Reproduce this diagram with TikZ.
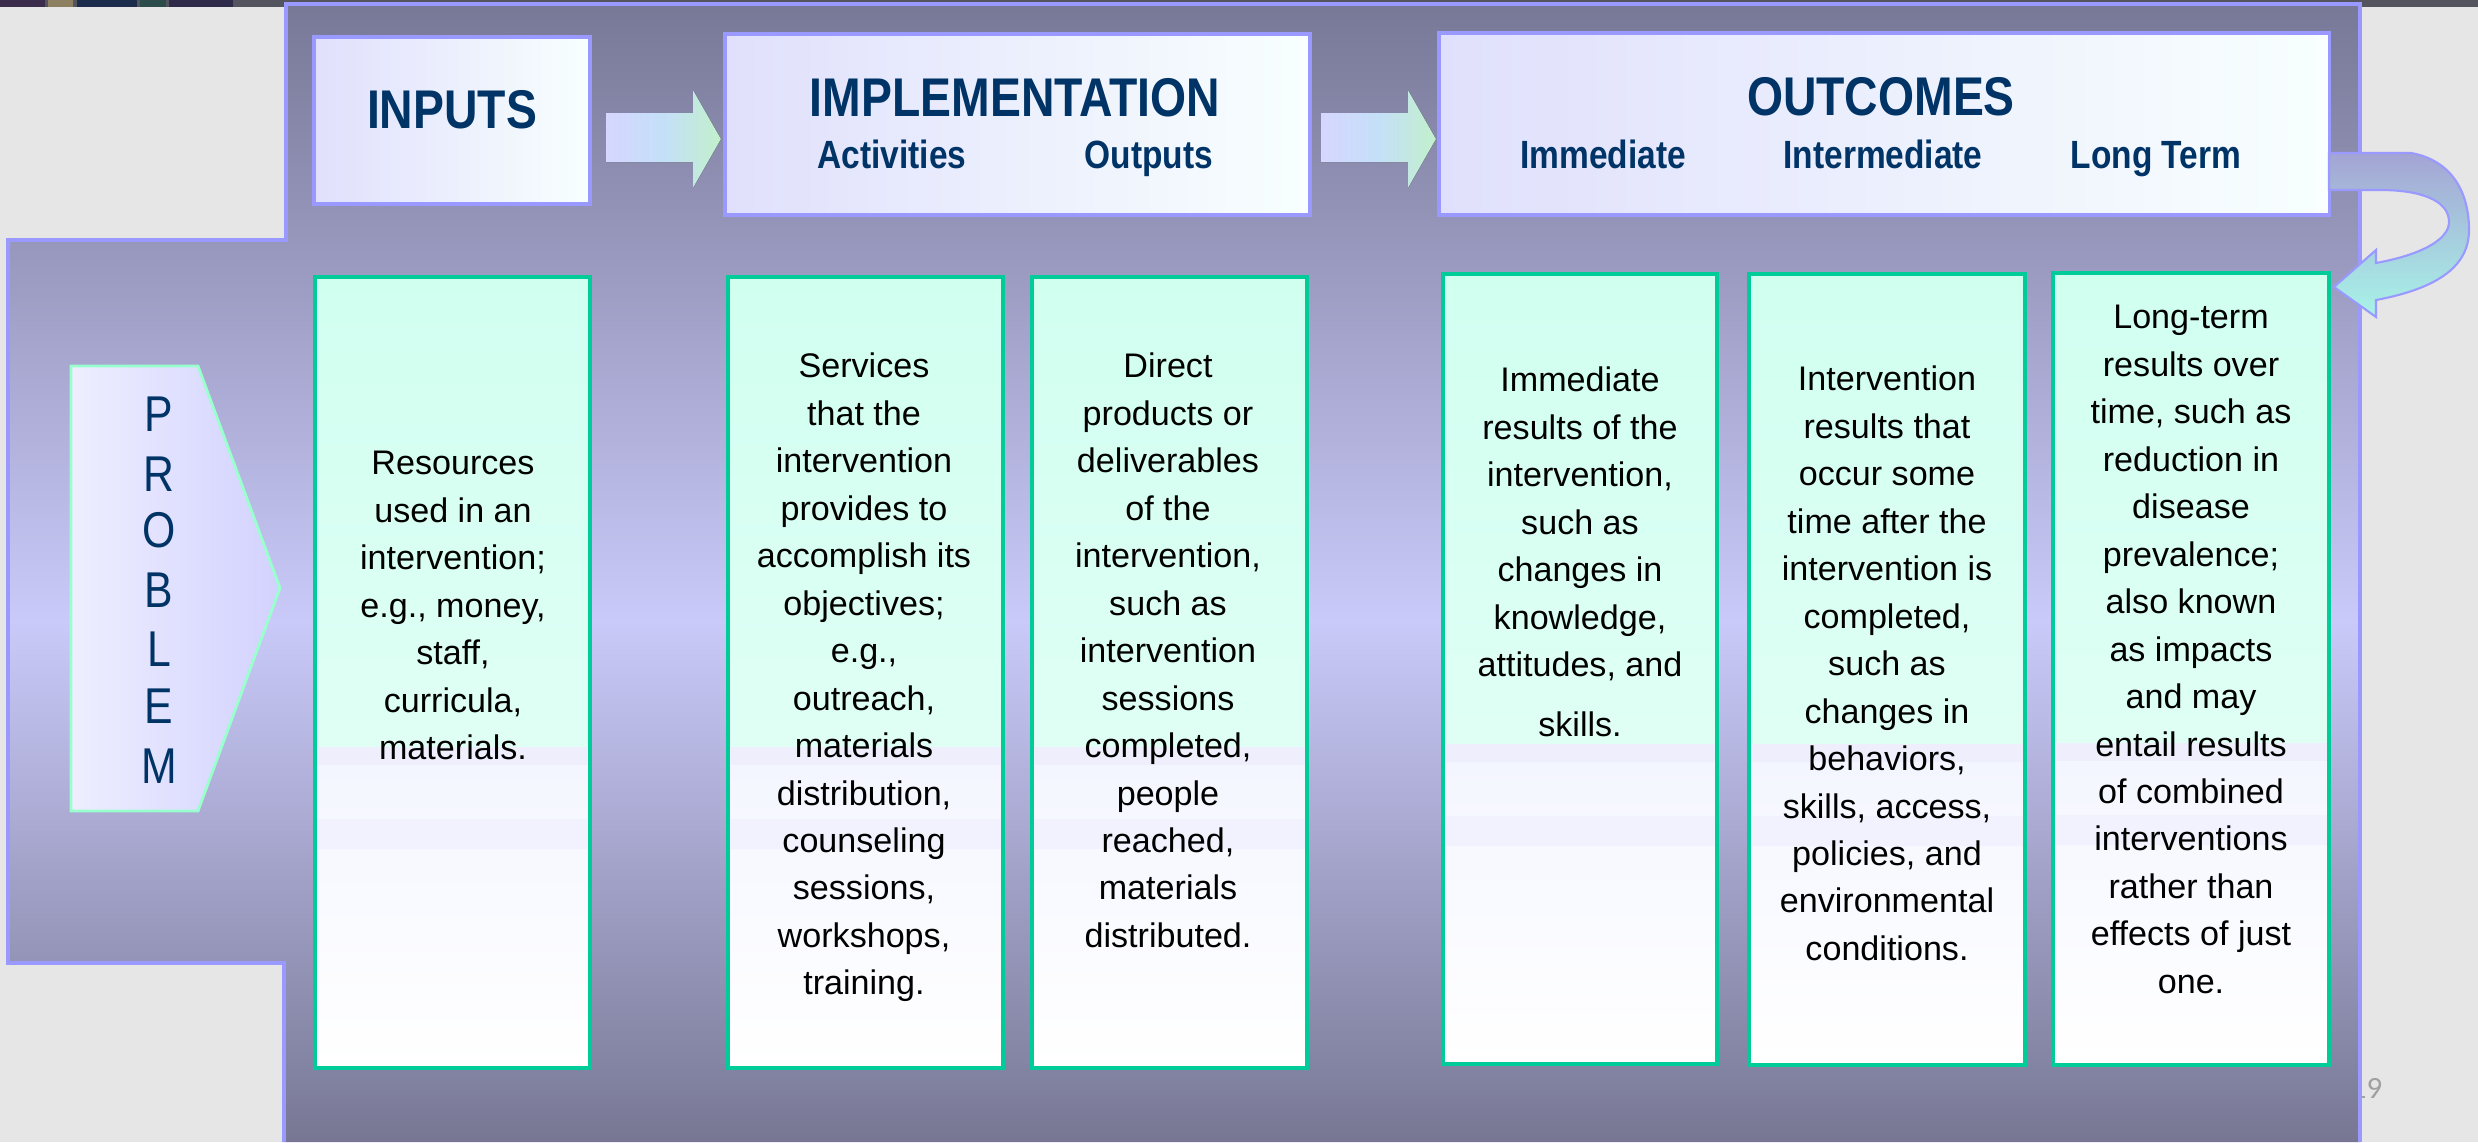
\documentclass[tikz,border=0pt]{standalone}
\usepackage{fontspec}
\setmainfont{Liberation Sans}
\newfontfamily\hdfont[FakeStretch=0.85]{Liberation Sans}
\newfontfamily\pgnumfont{Carlito}
\newcommand\firststrut{\rule{0pt}{10pt}}
\definecolor{bgcol}{HTML}{E6E6E6}
\definecolor{stripcol}{HTML}{54545E}
\definecolor{ptop}{HTML}{777796}
\definecolor{pmid}{HTML}{CACAFA}
\definecolor{pbot}{HTML}{777794}
\definecolor{pborder}{HTML}{9999FF}
\definecolor{hdrL}{HTML}{E0E0FC}
\definecolor{hdrR}{HTML}{F8FFFE}
\definecolor{navy}{HTML}{003366}
\definecolor{lowborder}{HTML}{00CC99}
\definecolor{lowtop}{HTML}{D0FFF0}
\definecolor{lowmid}{HTML}{EAFFF8}
\definecolor{lowband}{HTML}{EEEEFC}
\definecolor{lowlow}{HTML}{F4F6FF}
\definecolor{lowbot}{HTML}{FFFFFF}
\definecolor{arrL}{HTML}{D6D6FF}
\definecolor{arrM}{HTML}{C4E0F8}
\definecolor{arrR}{HTML}{C2F0CC}
\definecolor{probL}{HTML}{EEEEFF}
\definecolor{probR}{HTML}{D2D2FF}
\definecolor{probborder}{HTML}{99FFCC}
\definecolor{curvtop}{HTML}{A4A4D4}
\definecolor{curvbot}{HTML}{A8F4E8}
\definecolor{pgcol}{HTML}{A0A0A0}
\begin{document}
\begin{tikzpicture}[x={(0.01cm,0)}, y={(0,-0.01cm)},
  hdrbox/.style={draw=pborder, line width=1pt, left color=hdrL, right color=hdrR, inner sep=0pt},
  lowbox/.style={draw=lowborder, line width=1.1pt, inner sep=0pt,
    path picture={
      \fill[top color=lowtop, bottom color=lowmid] (path picture bounding box.north west) rectangle ([yshift=-4.70cm]path picture bounding box.north east);
      \fill[lowband] ([yshift=-4.70cm]path picture bounding box.north west) rectangle ([yshift=-4.88cm]path picture bounding box.north east);
      \fill[top color=lowlow, bottom color=lowbot] ([yshift=-4.88cm]path picture bounding box.north west) rectangle (path picture bounding box.south east);
      \fill[lowband, opacity=0.6] ([yshift=-5.42cm]path picture bounding box.north west) rectangle ([yshift=-5.72cm]path picture bounding box.north east);
    }},
  bigtitle/.style={font=\hdfont\bfseries\fontsize{15.5pt}{18pt}\selectfont, text=navy, inner sep=0pt, anchor=base},
  subtitle/.style={font=\hdfont\bfseries\fontsize{11.2pt}{13pt}\selectfont, text=navy, inner sep=0pt, anchor=base},
  bodytext/.style={font=\fontsize{9.7pt}{13.5pt}\selectfont, text=black, align=center, inner sep=0pt, anchor=north},
  problett/.style={font=\hdfont\fontsize{14.3pt}{16pt}\selectfont, text=navy, inner sep=0pt, anchor=base},
  blockarrow/.style={left color=arrL, right color=arrR, middle color=arrM}
]
\useasboundingbox (0,0) rectangle (2478,1142);
% background
\fill[bgcol] (0,0) rectangle (2478,1142);
\fill[stripcol] (0,0) rectangle (2478,7);
\fill[fill={rgb,255:red,60;green,44;blue,76}] (0,0) rectangle (45,7);
\fill[fill={rgb,255:red,140;green,128;blue,96}] (48,0) rectangle (73,7);
\fill[fill={rgb,255:red,28;green,44;blue,76}] (77,0) rectangle (137,7);
\fill[fill={rgb,255:red,44;green,76;blue,76}] (140,0) rectangle (166,7);
\fill[fill={rgb,255:red,48;green,42;blue,74}] (169,0) rectangle (233,7);
% page number
\node[font=\pgnumfont\fontsize{8.8pt}{10pt}\selectfont, text=pgcol, inner sep=0pt, anchor=base east] (pagenum) at (2383,1098) {19};
% panel
\begin{scope}
  \clip (286,4) -- (2360,4) -- (2360,1142) -- (284,1142) -- (284,963) -- (8,963) -- (8,240) -- (286,240) -- cycle;
  \fill[top color=ptop, bottom color=pmid] (0,0) rectangle (2478,622);
  \fill[top color=pmid, bottom color=pbot] (0,620) rectangle (2478,1142);
\end{scope}
\draw[pborder, line width=0.9pt] (284,1142) -- (284,963) -- (8,963) -- (8,240) -- (286,240) -- (286,4) -- (2360,4) -- (2360,1142);

% header boxes
\node[hdrbox, minimum width=2.76cm, minimum height=1.67cm] (inputs) at (452,120.5) {};
\node[hdrbox, minimum width=5.85cm, minimum height=1.81cm] (impl) at (1017.5,124.5) {};
\node[hdrbox, minimum width=8.90cm, minimum height=1.82cm] (outc) at (1884,124) {};

\node[bigtitle] (tinputs) at (452,128) {INPUTS};
\node[bigtitle] (timpl) at (1015,116) {IMPLEMENTATION};
\node[subtitle] (tact) at (892,168) {Activities};
\node[subtitle] (tout) at (1149,168) {Outputs};
\node[bigtitle] (toutc) at (1881,115) {OUTCOMES};
\node[subtitle] (timm) at (1603,168) {Immediate};
\node[subtitle] (tint) at (1883,168) {Intermediate};
\node[subtitle] (tlong) at (2156,168) {Long Term};

% block arrows
\fill[blockarrow] (606,113) -- (693,113) -- (693,90) -- (721,139) -- (693,188) -- (693,162) -- (606,162) -- cycle;
\fill[blockarrow] (1321,113) -- (1408,113) -- (1408,90) -- (1436,139) -- (1408,188) -- (1408,162) -- (1321,162) -- cycle;

% curved feedback arrow
\draw[pborder, line width=0.6pt, top color=curvtop, bottom color=curvbot]
  (2329,153) -- (2411,153) .. controls (2450,160) and (2469,190) .. (2469,230)
  .. controls (2469,265) and (2440,288) .. (2376,300) -- (2376,317) -- (2334,287) -- (2376,250) -- (2376,263)
  .. controls (2420,255) and (2449,240) .. (2449,222) .. controls (2449,200) and (2420,190) .. (2380,190)
  -- (2329,190) -- cycle;

% problem pentagon
\draw[probborder, line width=0.8pt, left color=probL, right color=probR]
  (71,366) -- (198,366) -- (280,588) -- (198,811) -- (71,811) -- cycle;
\node[problett] (p1) at (159,431) {P};
\node[problett] (p2) at (159,491) {R};
\node[problett] (p3) at (159,547) {O};
\node[problett] (p4) at (159,607) {B};
\node[problett] (p5) at (159,666) {L};
\node[problett] (p6) at (159,723) {E};
\node[problett] (p7) at (159,783) {M};

% lower boxes
\node[lowbox, minimum width=2.75cm, minimum height=7.91cm] (binp) at (452.5,672.5) {};
\node[lowbox, minimum width=2.75cm, minimum height=7.91cm] (bact) at (865.5,672.5) {};
\node[lowbox, minimum width=2.75cm, minimum height=7.91cm] (bout) at (1169.5,672.5) {};
\node[lowbox, minimum width=2.74cm, minimum height=7.90cm] (bimm) at (1580,669) {};
\node[lowbox, minimum width=2.76cm, minimum height=7.91cm] (bint) at (1887,669.5) {};
\node[lowbox, minimum width=2.76cm, minimum height=7.92cm] (blong) at (2191,669) {};

\node[bodytext] (xinp) at (453,438.85) {\firststrut Resources\\used in an\\intervention;\\e.g., money,\\staff,\\curricula,\\materials.};
\node[bodytext] (xact) at (864,341.85) {\firststrut Services\\that the\\intervention\\provides to\\accomplish its\\objectives;\\e.g.,\\outreach,\\materials\\distribution,\\counseling\\sessions,\\workshops,\\training.};
\node[bodytext] (xout) at (1168,341.85) {\firststrut Direct\\products or\\deliverables\\of the\\intervention,\\such as\\intervention\\sessions\\completed,\\people\\reached,\\materials\\distributed.};
\node[bodytext] (ximm) at (1580,355.85) {\firststrut Immediate\\results of the\\intervention,\\such as\\changes in\\knowledge,\\attitudes, and\\[3.6pt]skills.};
\node[bodytext] (xint) at (1887,354.85) {\firststrut Intervention\\results that\\occur some\\time after the\\intervention is\\completed,\\such as\\changes in\\behaviors,\\skills, access,\\policies, and\\environmental\\conditions.};
\node[bodytext] (xlong) at (2191,292.85) {\firststrut Long-term\\results over\\time, such as\\reduction in\\disease\\prevalence;\\also known\\as impacts\\and may\\entail results\\of combined\\interventions\\rather than\\effects of just\\one.};
\end{tikzpicture}
\end{document}
